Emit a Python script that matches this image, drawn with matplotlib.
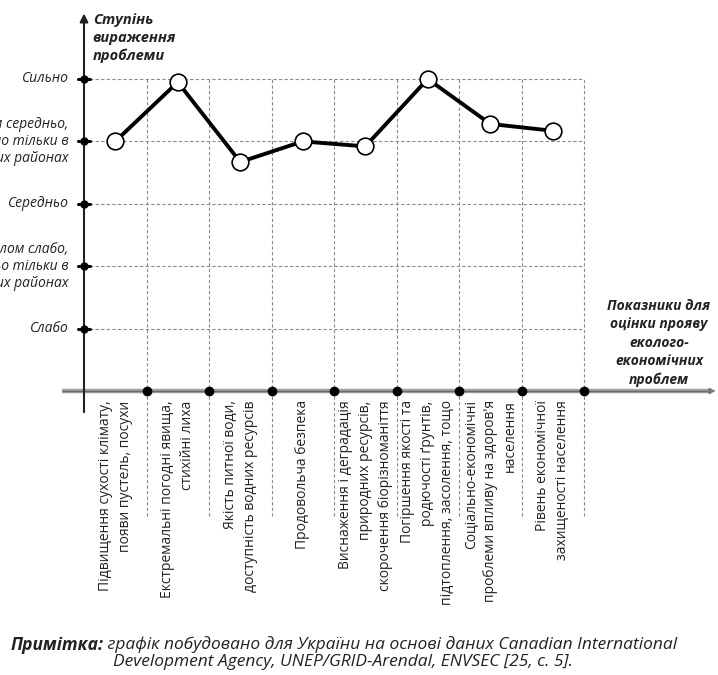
import matplotlib
matplotlib.use("Agg")
import matplotlib.pyplot as plt
import numpy as np

plt.rcParams["font.family"] = ["Open Sans", "DejaVu Sans"]

# Дані графіка
categories = [
    "Підвищення сухості клімату,\nпояви пустель, посухи",
    "Екстремальні погодні явища,\nстихійні лиха",
    "Якість питної води,\nдоступність водних ресурсів",
    "Продовольча безпека",
    "Виснаження і деградація\nприродних ресурсів,\nскорочення біорізноманіття",
    "Погіршення якості та\nродючості ґрунтів,\nпідтоплення, засолення, тощо",
    "Соціально-економічні\nпроблеми впливу на здоров'я\nнаселення",
    "Рівень економічної\nзахищеності населення",
]
values = [4.0, 4.95, 3.67, 4.0, 3.92, 5.0, 4.28, 4.17]
level_labels = [
    "Слабо",
    "Загалом слабо,\nсередньо тільки в\nокремих районах",
    "Середньо",
    "Загалом середньо,\nсильно тільки в\nокремих районах",
    "Сильно",
]
y_title = "Ступінь\nвираження\nпроблеми"
x_title = "Показники для\nоцінки прояву\nеколого-\nекономічних\nпроблем"
note_bold = "Примітка:"
note_line1 = " графік побудовано для України на основі даних Canadian International"
note_line2 = "Development Agency, UNEP/GRID-Arendal, ENVSEC [25, с. 5]."

# Полотно: одна вісь на весь рисунок, одиниця = одна клітинка
W, H = 718, 675
x0, y0 = 84, 391          # піксель початку координат
sx, sy = 62.5, 62.4       # пікселів на одиницю

fig = plt.figure(figsize=(W / 100, H / 100), dpi=100)
ax = fig.add_axes([0, 0, 1, 1])
ax.set_xlim(-x0 / sx, (W - x0) / sx)
ax.set_ylim(-(H - y0) / sy, y0 / sy)
ax.axis("off")

n = len(categories)
levels = np.arange(1, len(level_labels) + 1)
bounds = np.arange(1, n + 1)
grid_kw = dict(color="#8c8c8c", lw=0.8, ls=(0, (3, 2)), zorder=1)

# сітка
for lv in levels:
    ax.plot([0, n], [lv, lv], **grid_kw)
for b in bounds:
    ax.plot([b, b], [-2.0, levels[-1]], **grid_kw)

# вісь X (сіра смуга зі стрілкою)
ax.plot([-0.35, 10.05], [0, 0], color="#a2a2a2", lw=3.2, zorder=2, solid_capstyle="butt")
ax.plot([-0.35, 10.05], [0, 0], color="#6a6a6a", lw=1.0, zorder=3, solid_capstyle="butt")
ax.annotate("", xy=(10.15, 0), xytext=(9.95, 0),
            arrowprops=dict(arrowstyle="-|>", color="#777", lw=1, mutation_scale=9), zorder=3)
ax.plot(bounds, np.zeros(n), "o", color="black", ms=6, zorder=4)

# вісь Y зі стрілкою
ax.annotate("", xy=(0, 6.05), xytext=(0, -0.34),
            arrowprops=dict(arrowstyle="-|>", color="#222", lw=1.5, mutation_scale=12,
                            shrinkA=0, shrinkB=0), zorder=4)
for lv in levels:
    ax.plot([-0.09, 0.09], [lv, lv], color="black", lw=2.2, zorder=4, solid_capstyle="round")
ax.plot(np.zeros(len(levels)), levels, "o", color="black", ms=5, zorder=4)

# ряд даних
xs = np.arange(n) + 0.5
ax.plot(xs, values, color="black", lw=2.8, zorder=5)
ax.plot(xs, values, "o", ms=12, mfc="white", mec="black", mew=1.2, zorder=6)

txt = "#222222"
for lv, lab in zip(levels, level_labels):
    ax.text(-0.25, lv, lab, ha="right", va="center", multialignment="right",
            fontsize=10, style="italic", color=txt, linespacing=1.2)

for x, lab in zip(xs, categories):
    ax.text(x, -0.15, lab, rotation=90, rotation_mode="anchor", ha="right", va="center",
            multialignment="right", fontsize=10, color=txt, linespacing=1.45)

ax.text(0.14, 6.05, y_title, ha="left", va="top", fontsize=10.5, style="italic",
        weight="bold", color=txt, linespacing=1.32)
ax.text(9.2, 0.77, x_title, ha="center", va="center", fontsize=10, style="italic",
        weight="bold", color=txt, linespacing=1.38)

# примітка
b = ax.text(-1.18, -4.07, note_bold, ha="left", va="center", fontsize=12.5,
            style="italic", weight="bold", color=txt)
ax.annotate(note_line1, xy=(1, 0.5), xycoords=b, ha="left", va="center",
            fontsize=12.5, style="italic", color=txt)
ax.text(4.14, -4.34, note_line2, ha="center", va="center", fontsize=12.5,
        style="italic", color=txt)

fig.savefig("out.png", dpi=100)
